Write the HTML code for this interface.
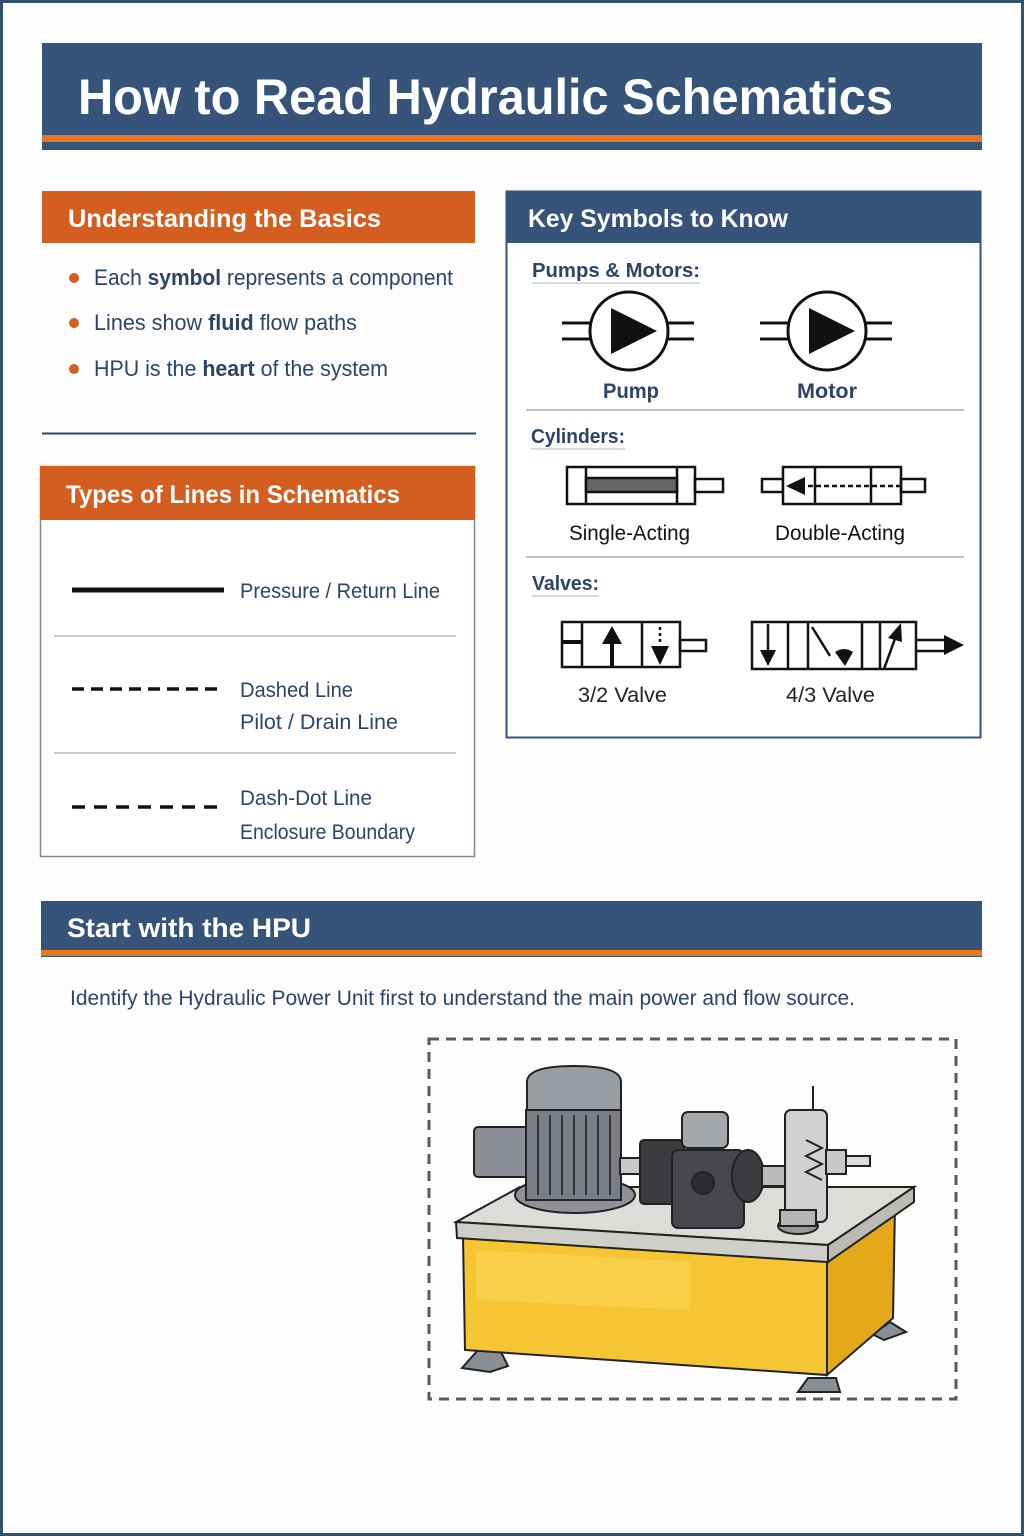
<!DOCTYPE html>
<html><head><meta charset="utf-8"><style>
html,body{margin:0;padding:0;background:#fff}
svg{display:block}
text{font-family:"Liberation Sans",sans-serif}
</style></head><body>
<svg width="1024" height="1536" viewBox="0 0 1024 1536" xmlns="http://www.w3.org/2000/svg">
<rect x="0" y="0" width="1024" height="1536" fill="#fdfdfd"/>
<rect x="1.5" y="1.5" width="1021" height="1533" fill="none" stroke="#34506f" stroke-width="3"/>

<!-- title -->
<rect x="42" y="43" width="940" height="107" fill="#36547a"/>
<rect x="42" y="135" width="940" height="7" fill="#e8771f"/>
<text x="78" y="114" font-size="50" font-weight="bold" fill="#fff" textLength="815" lengthAdjust="spacingAndGlyphs">How to Read Hydraulic Schematics</text>

<!-- basics -->
<rect x="42" y="191" width="433" height="52" fill="#d35e1f"/>
<text x="68" y="227" font-size="25" font-weight="bold" fill="#fff" textLength="313" lengthAdjust="spacingAndGlyphs">Understanding the Basics</text>
<g font-size="22" fill="#2c4566">
<circle cx="74" cy="278" r="5" fill="#d35e1f"/>
<text x="94" y="285" textLength="359" lengthAdjust="spacingAndGlyphs">Each <tspan font-weight="bold">symbol</tspan> represents a component</text>
<circle cx="74" cy="323" r="5" fill="#d35e1f"/>
<text x="94" y="330" textLength="263" lengthAdjust="spacingAndGlyphs">Lines show <tspan font-weight="bold">fluid</tspan> flow paths</text>
<circle cx="74" cy="369" r="5" fill="#d35e1f"/>
<text x="94" y="376" textLength="294" lengthAdjust="spacingAndGlyphs">HPU is the <tspan font-weight="bold">heart</tspan> of the system</text>
</g>
<line x1="42" y1="433.5" x2="476" y2="433.5" stroke="#2c4566" stroke-width="2"/>

<!-- types of lines -->
<rect x="40.5" y="466.5" width="434" height="390" fill="#fff" stroke="#7d8a99" stroke-width="1.5"/>
<rect x="40" y="466" width="435" height="54" fill="#d35e1f"/>
<text x="66" y="503" font-size="25" font-weight="bold" fill="#fff" textLength="334" lengthAdjust="spacingAndGlyphs">Types of Lines in Schematics</text>
<g font-size="21" fill="#2c4566">
<line x1="72" y1="590" x2="224" y2="590" stroke="#111" stroke-width="5"/>
<text x="240" y="598" textLength="200" lengthAdjust="spacingAndGlyphs">Pressure / Return Line</text>
<line x1="54" y1="636" x2="456" y2="636" stroke="#b5b9bf" stroke-width="1.5"/>
<line x1="72" y1="689" x2="224" y2="689" stroke="#111" stroke-width="3.5" stroke-dasharray="12,7"/>
<text x="240" y="697" textLength="113" lengthAdjust="spacingAndGlyphs">Dashed Line</text>
<text x="240" y="729" textLength="158" lengthAdjust="spacingAndGlyphs">Pilot / Drain Line</text>
<line x1="54" y1="753" x2="456" y2="753" stroke="#b5b9bf" stroke-width="1.5"/>
<line x1="72" y1="807" x2="224" y2="807" stroke="#111" stroke-width="3.5" stroke-dasharray="13,9"/>
<text x="240" y="805" textLength="132" lengthAdjust="spacingAndGlyphs">Dash-Dot Line</text>
<text x="240" y="839" textLength="175" lengthAdjust="spacingAndGlyphs">Enclosure Boundary</text>
</g>

<!-- key symbols -->
<rect x="506.5" y="191.5" width="474" height="546" fill="#fff" stroke="#36547a" stroke-width="2"/>
<rect x="506" y="191" width="475" height="52" fill="#36547a"/>
<text x="528" y="227" font-size="25" font-weight="bold" fill="#fff" textLength="260" lengthAdjust="spacingAndGlyphs">Key Symbols to Know</text>
<g font-size="20" font-weight="bold" fill="#2c4566">
<text x="532" y="277" textLength="168" lengthAdjust="spacingAndGlyphs">Pumps &amp; Motors:</text>
<line x1="532" y1="283" x2="700" y2="283" stroke="#c8d0da" stroke-width="1.5"/>
<text x="531" y="443" textLength="94" lengthAdjust="spacingAndGlyphs">Cylinders:</text>
<line x1="531" y1="449" x2="625" y2="449" stroke="#c8d0da" stroke-width="1.5"/>
<text x="532" y="590" textLength="67" lengthAdjust="spacingAndGlyphs">Valves:</text>
<line x1="532" y1="596" x2="599" y2="596" stroke="#c8d0da" stroke-width="1.5"/>
</g>
<!-- pump & motor -->
<g stroke="#111" stroke-width="3" fill="none">
<line x1="562" y1="323" x2="592" y2="323"/><line x1="562" y1="339" x2="592" y2="339"/>
<line x1="666" y1="323" x2="694" y2="323"/><line x1="666" y1="339" x2="694" y2="339"/>
<circle cx="629" cy="331" r="39" fill="#fff"/>
<line x1="760" y1="323" x2="790" y2="323"/><line x1="760" y1="339" x2="790" y2="339"/>
<line x1="864" y1="323" x2="892" y2="323"/><line x1="864" y1="339" x2="892" y2="339"/>
<circle cx="827" cy="331" r="39" fill="#fff"/>
</g>
<polygon points="611,308 611,354 657,331" fill="#111"/>
<polygon points="809,308 809,354 855,331" fill="#111"/>
<g font-size="21" font-weight="bold" fill="#2c4566">
<text x="603" y="398" textLength="56" lengthAdjust="spacingAndGlyphs">Pump</text>
<text x="797" y="398" textLength="60" lengthAdjust="spacingAndGlyphs">Motor</text>
</g>
<line x1="526" y1="410" x2="964" y2="410" stroke="#a8adb3" stroke-width="1.5"/>
<!-- cylinders -->
<g stroke="#111" stroke-width="2.5" fill="none">
<rect x="567" y="467" width="128" height="37" fill="#fff"/>
<line x1="586" y1="467" x2="586" y2="504"/><line x1="677" y1="467" x2="677" y2="504"/>
<rect x="586" y="478" width="91" height="14" fill="#666"/>
<rect x="695" y="479" width="28" height="13"/>
<rect x="762" y="479" width="21" height="13"/>
<rect x="783" y="467" width="118" height="37" fill="#fff"/>
<line x1="815" y1="467" x2="815" y2="504"/><line x1="871" y1="467" x2="871" y2="504"/>
<rect x="901" y="479" width="24" height="13"/>
<line x1="800" y1="486" x2="901" y2="486" stroke-dasharray="5,3"/>
</g>
<polygon points="786,486 805,477 805,495" fill="#111"/>
<g font-size="21" fill="#111">
<text x="569" y="540" textLength="121" lengthAdjust="spacingAndGlyphs">Single-Acting</text>
<text x="775" y="540" textLength="130" lengthAdjust="spacingAndGlyphs">Double-Acting</text>
</g>
<line x1="526" y1="557" x2="964" y2="557" stroke="#a8adb3" stroke-width="1.5"/>
<!-- valves -->
<g stroke="#111" stroke-width="2.5" fill="none">
<rect x="562" y="622" width="118" height="45" fill="#fff"/>
<line x1="582" y1="622" x2="582" y2="667"/><line x1="642" y1="622" x2="642" y2="667"/>
<line x1="562" y1="642" x2="582" y2="642" stroke-width="4"/>
<line x1="612" y1="667" x2="612" y2="640" stroke-width="4"/>
<line x1="660" y1="627" x2="660" y2="645" stroke-dasharray="3,3"/>
<rect x="680" y="640" width="26" height="11"/>
<rect x="752" y="622" width="164" height="47" fill="#fff"/>
<line x1="788" y1="622" x2="788" y2="669"/><line x1="808" y1="622" x2="808" y2="669"/>
<line x1="862" y1="622" x2="862" y2="669"/><line x1="880" y1="622" x2="880" y2="669"/>
<line x1="768" y1="624" x2="768" y2="652"/>
<line x1="812" y1="627" x2="830" y2="656"/>
<line x1="884" y1="669" x2="896" y2="636"/>
<line x1="916" y1="640" x2="945" y2="640"/><line x1="916" y1="651" x2="945" y2="651"/>
</g>
<polygon points="612,626 602,644 622,644" fill="#111"/>
<polygon points="660,665 651,646 669,646" fill="#111"/>
<polygon points="768,666 760,650 776,650" fill="#111"/>
<path d="M835,652 Q844,646 853,652 L845,666 Z" fill="#111"/>
<polygon points="901,623 888,638 902,642" fill="#111"/>
<polygon points="944,635 964,645 944,655" fill="#111"/>
<g font-size="21" fill="#222">
<text x="578" y="702" textLength="89" lengthAdjust="spacingAndGlyphs">3/2 Valve</text>
<text x="786" y="702" textLength="89" lengthAdjust="spacingAndGlyphs">4/3 Valve</text>
</g>

<!-- HPU banner -->
<rect x="41" y="901" width="941" height="56" fill="#36547a"/>
<rect x="41" y="950" width="941" height="6" fill="#e8771f"/>
<text x="67" y="937" font-size="27" font-weight="bold" fill="#fff" textLength="244" lengthAdjust="spacingAndGlyphs">Start with the HPU</text>
<text x="70" y="1005" font-size="21" fill="#2c4566" textLength="785" lengthAdjust="spacingAndGlyphs">Identify the Hydraulic Power Unit first to understand the main power and flow source.</text>

<!-- HPU illustration -->
<rect x="429" y="1039" width="527" height="360" fill="none" stroke="#555b62" stroke-width="3" stroke-dasharray="10,7"/>
<g stroke="#222" stroke-width="2">
<!-- feet -->
<polygon points="462,1368 478,1350 500,1350 508,1366 490,1372" fill="#8a8f96"/>
<polygon points="798,1392 808,1378 836,1378 840,1392" fill="#8a8f96"/>
<polygon points="872,1334 890,1322 906,1332 884,1340" fill="#8a8f96"/>
<!-- tank -->
<polygon points="463,1238 827,1258 827,1375 465,1350" fill="#f6c534"/>
<polygon points="827,1258 895,1205 893,1318 827,1375" fill="#e3a919"/>
<polygon points="476,1250 690,1262 690,1310 476,1300" fill="#fbd65a" stroke="none" opacity="0.6"/>
<!-- top -->
<polygon points="456,1222 520,1187 914,1187 828,1245" fill="#dcdcd8"/>
<polygon points="456,1222 828,1245 828,1262 457,1238" fill="#cfcfca"/>
<polygon points="828,1245 914,1187 914,1202 828,1262" fill="#bcbcb6"/>
<!-- motor -->
<rect x="474" y="1127" width="60" height="50" rx="4" fill="#8c9096"/>
<ellipse cx="575" cy="1195" rx="60" ry="18" fill="#8e9298"/>
<rect x="526" y="1110" width="95" height="90" fill="#7a7e84"/>
<g stroke="#333" stroke-width="2">
<line x1="538" y1="1115" x2="538" y2="1195"/><line x1="550" y1="1115" x2="550" y2="1195"/>
<line x1="562" y1="1115" x2="562" y2="1195"/><line x1="574" y1="1115" x2="574" y2="1195"/>
<line x1="586" y1="1115" x2="586" y2="1195"/><line x1="598" y1="1115" x2="598" y2="1195"/>
<line x1="610" y1="1115" x2="610" y2="1195"/>
</g>
<path d="M527,1110 L527,1082 Q527,1066 574,1066 Q621,1066 621,1082 L621,1110 Z" fill="#9a9ea4"/>
<!-- coupling -->
<rect x="620" y="1158" width="22" height="16" fill="#c8c8c8"/>
<!-- pump -->
<rect x="640" y="1140" width="44" height="64" rx="4" fill="#3a3c40"/>
<rect x="672" y="1150" width="72" height="78" rx="6" fill="#45474c"/>
<circle cx="703" cy="1183" r="11" fill="#2a2b2e"/>
<rect x="682" y="1112" width="46" height="36" rx="6" fill="#a4a7ab"/>
<ellipse cx="748" cy="1176" rx="16" ry="26" fill="#3a3c40"/>
<rect x="762" y="1166" width="28" height="20" fill="#bbbbbb"/>
<!-- valve -->
<rect x="785" y="1110" width="42" height="112" rx="6" fill="#cfd1d3"/>
<line x1="813" y1="1086" x2="813" y2="1110"/>
<path d="M806,1140 L822,1148 L806,1156 L822,1164 L806,1172 L822,1180" fill="none"/>
<rect x="826" y="1150" width="20" height="24" fill="#c8c8c8"/>
<rect x="846" y="1156" width="24" height="10" fill="#ddd"/>
<ellipse cx="798" cy="1226" rx="20" ry="8" fill="#999"/>
<rect x="780" y="1210" width="36" height="16" fill="#b5b5b5"/>
</g>
</svg>
</body></html>
